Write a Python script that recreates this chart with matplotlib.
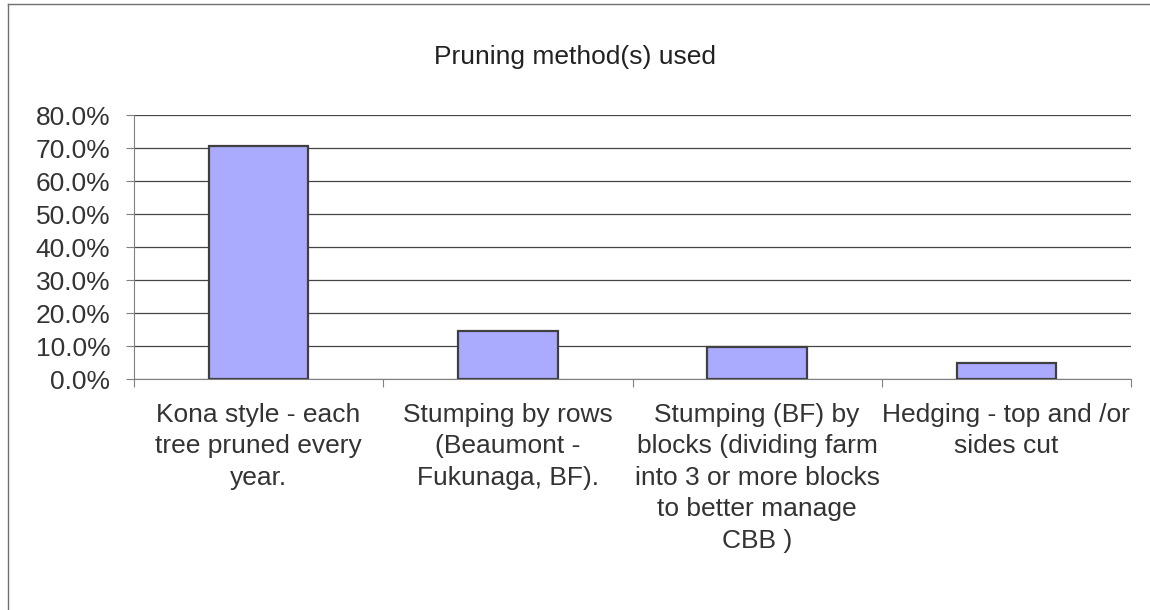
import matplotlib
matplotlib.use("Agg")
import matplotlib.pyplot as plt
from matplotlib.lines import Line2D
from matplotlib.ticker import PercentFormatter

plt.rcParams["font.family"] = ["Liberation Sans", "DejaVu Sans"]

# ── Data ──
categories = [
    "Kona style - each\ntree pruned every\nyear.",
    "Stumping by rows\n(Beaumont -\nFukunaga, BF).",
    "Stumping (BF) by\nblocks (dividing farm\ninto 3 or more blocks\nto better manage\nCBB )",
    "Hedging - top and /or\nsides cut",
]
shares = [0.707, 0.146, 0.098, 0.049]
y_ticks = [0.0, 0.1, 0.2, 0.3, 0.4, 0.5, 0.6, 0.7, 0.8]
title = "Pruning method(s) used"

fig = plt.figure(figsize=(11.5, 6.1), dpi=100)
ax = fig.add_axes([0.1165, 0.378, 0.867, 0.433])

ax.set_axisbelow(True)
ax.grid(axis="y", color="#454545", linewidth=0.9)
ax.bar(range(len(shares)), shares, width=0.4,
       color="#AAAAFF", edgecolor="#404040", linewidth=1.6, zorder=3)

ax.set_xlim(-0.5, len(shares) - 0.5)
ax.set_ylim(0, 0.8)
ax.set_yticks(y_ticks)
ax.yaxis.set_major_formatter(PercentFormatter(1.0, decimals=1))

# category labels centred on bars, tick marks on the boundaries
ax.set_xticks(range(len(shares)))
ax.set_xticklabels(categories, fontsize=19, color="#333333", linespacing=1.39,
                   ha="center", va="top")
ax.tick_params(axis="x", which="major", length=0, pad=17)
ax.set_xticks([i - 0.5 for i in range(len(shares) + 1)], minor=True)
ax.tick_params(axis="x", which="minor", length=6, width=0.8, color="#808080",
               direction="out")
ax.tick_params(axis="y", labelsize=19, labelcolor="#333333", length=6,
               width=0.8, color="#808080", pad=11)

for side in ["top", "right"]:
    ax.spines[side].set_visible(False)
ax.spines["left"].set_color("#808080")
ax.spines["bottom"].set_color("#808080")
ax.spines["left"].set_linewidth(0.8)
ax.spines["bottom"].set_linewidth(0.8)

fig.text(0.5, 0.906, title, ha="center", va="center", fontsize=19,
         color="#222222")

# outer chart frame (runs off the right and bottom edges)
fig.add_artist(Line2D([0.0070, 0.0070], [0.0, 0.9935], color="#707070",
                      linewidth=1.0))
fig.add_artist(Line2D([0.0070, 1.0], [0.9935, 0.9935], color="#707070",
                      linewidth=1.0))

fig.savefig("out.png", dpi=100)
